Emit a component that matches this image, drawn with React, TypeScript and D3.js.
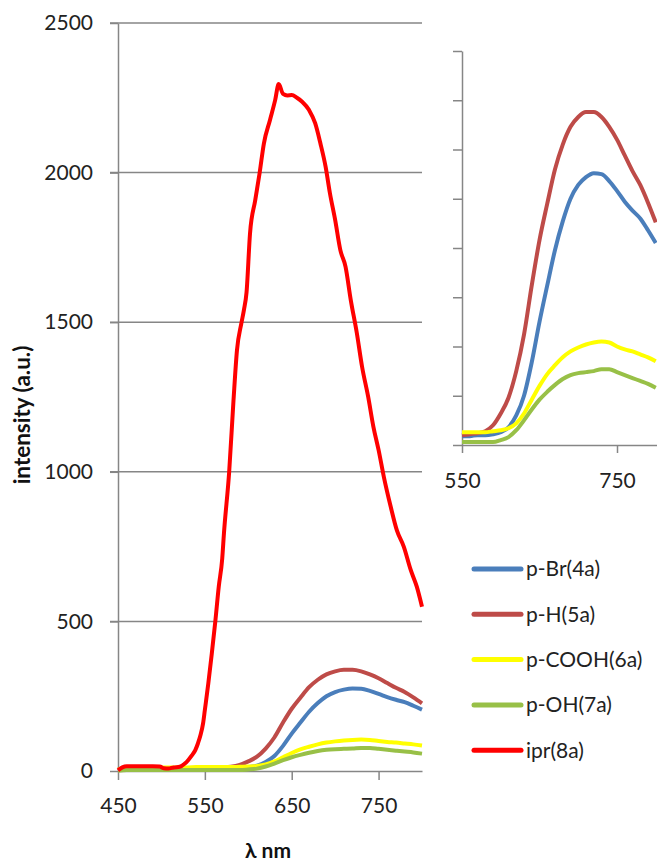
import React, { useEffect, useRef } from 'react';
import * as d3 from 'd3';

// wavelength grid (nm) for the four weak emitters
const wavelengths = [450, 460, 470, 480, 490, 500, 510, 520, 530, 540, 550, 560, 570, 580, 590, 600, 610, 620, 630, 640, 650, 660, 670, 680, 690, 700, 710, 720, 730, 740, 750, 760, 770, 780, 790, 800];

const pBr = [5, 7, 7, 7, 7, 7, 7, 7, 8, 8, 9, 9, 10, 10, 11, 13, 18, 30, 50, 84, 125, 162, 198, 227, 250, 264, 272, 276, 275, 268, 258, 247, 238, 230, 218, 205];
const pH = [6, 9, 9, 9, 9, 9, 9, 9, 10, 10, 10, 11, 12, 14, 20, 32, 48, 75, 112, 162, 208, 245, 280, 305, 323, 333, 338, 338, 333, 323, 310, 294, 278, 264, 246, 226];
const pCOOH = [5, 10, 12, 12, 12, 12, 12, 12, 12, 13, 13, 13, 13, 13, 14, 15, 17, 22, 32, 46, 60, 72, 81, 89, 95, 99, 102, 104, 105, 104, 100, 97, 95, 92, 89, 85];
const pOH = [1, 3, 3, 3, 3, 3, 3, 3, 3, 3, 3, 3, 3, 3, 3, 5, 8, 15, 25, 36, 46, 54, 61, 67, 71, 73, 74, 75, 77, 77, 74, 71, 68, 65, 62, 58];

// the strong emitter was sampled on its own grid
const iprWavelengths = [450, 455, 460, 470, 480, 490, 498, 503, 508, 514, 521, 527, 531, 535, 539, 542, 545, 548, 550, 554, 558, 562, 566, 570, 572, 578, 583, 587, 592, 595, 598, 602, 608, 613, 618, 625, 631, 635, 640, 645, 650, 656, 662, 670, 677, 683, 689, 694, 700, 706, 712, 718, 725, 731, 738, 744, 750, 756, 764, 771, 779, 787, 794, 800];
const ipr = [2, 12, 16, 16, 16, 16, 15, 9, 8, 12, 14, 25, 37, 52, 70, 92, 120, 160, 204, 293, 393, 499, 616, 710, 795, 1000, 1240, 1407, 1496, 1541, 1600, 1797, 1908, 1998, 2098, 2176, 2243, 2296, 2263, 2258, 2259, 2250, 2237, 2209, 2165, 2098, 2020, 1931, 1842, 1741, 1685, 1574, 1463, 1351, 1251, 1151, 1073, 984, 883, 805, 750, 672, 616, 549];

const seriesNames = ['p-Br(4a)', 'p-H(5a)', 'p-COOH(6a)', 'p-OH(7a)', 'ipr(8a)'];
const seriesColors = ['#4A7EBB', '#BE4B48', '#FFFF00', '#98C047', '#FF0000'];

const mainXTicks = [450, 550, 650, 750];
const mainYTicks = [0, 500, 1000, 1500, 2000, 2500];
const insetXTicks = [550, 750];
const insetYTicks = [0, 50, 100, 150, 200, 250, 300, 350, 400];

const FONT = 'Lato, "Open Sans", sans-serif';
const AXIS = '#868686';

const App = () => {
  const svgRef = useRef(null);

  useEffect(() => {
    const svg = d3.select(svgRef.current);
    svg.selectAll('*').remove();

    const small = [pBr, pH, pCOOH, pOH].map((vals, i) => ({
      name: seriesNames[i],
      color: seriesColors[i],
      points: wavelengths.map((w, j) => [w, vals[j]]),
    }));
    const strong = {
      name: seriesNames[4],
      color: seriesColors[4],
      points: iprWavelengths.map((w, j) => [w, ipr[j]]),
    };

    // main chart
    const x = d3.scaleLinear().domain([450, 800]).range([118, 422]);
    const y = d3.scaleLinear().domain([0, 2500]).range([771, 23]);

    const grid = svg.append('g');
    grid.selectAll('line')
      .data(mainYTicks.filter(t => t > 0))
      .enter()
      .append('line')
      .attr('x1', x(450) - 8)
      .attr('x2', x(800))
      .attr('y1', d => y(d))
      .attr('y2', d => y(d))
      .attr('stroke', AXIS)
      .attr('stroke-width', 1.5);

    const yAxis = svg.append('g')
      .attr('transform', `translate(${x(450)},0)`)
      .call(d3.axisLeft(y).tickValues(mainYTicks).tickFormat(d3.format('d')).tickSizeInner(8).tickSizeOuter(0).tickPadding(17));

    const xAxis = svg.append('g')
      .attr('transform', `translate(0,${y(0)})`)
      .call(d3.axisBottom(x).tickValues(mainXTicks).tickFormat(d3.format('d')).tickSizeInner(9).tickSizeOuter(0).tickPadding(18));

    const line = d3.line().x(d => x(d[0])).y(d => y(d[1])).curve(d3.curveMonotoneX);
    svg.append('g')
      .selectAll('path')
      .data([...small, strong])
      .enter()
      .append('path')
      .attr('d', d => line(d.points))
      .attr('fill', 'none')
      .attr('stroke', d => d.color)
      .attr('stroke-width', 4)
      .attr('stroke-linejoin', 'round');

    // inset: zoom on the four weak emitters
    const xi = d3.scaleLinear().domain([550, 850]).range([462, 694.5]);
    const yi = d3.scaleLinear().domain([0, 400]).range([445, 51]);

    const yAxisIn = svg.append('g')
      .attr('transform', `translate(${xi(550)},0)`)
      .call(d3.axisLeft(yi).tickValues(insetYTicks).tickFormat(() => '').tickSizeInner(9).tickSizeOuter(0));

    const xAxisIn = svg.append('g')
      .attr('transform', `translate(0,${yi(0)})`)
      .call(d3.axisBottom(xi).tickValues(insetXTicks).tickFormat(d3.format('d')).tickSizeInner(8).tickSizeOuter(0).tickPadding(20));

    const lineIn = d3.line().x(d => xi(d[0])).y(d => yi(d[1])).curve(d3.curveMonotoneX);
    svg.append('g')
      .selectAll('path')
      .data(small)
      .enter()
      .append('path')
      .attr('d', d => lineIn(d.points.filter(p => p[0] >= 550)))
      .attr('fill', 'none')
      .attr('stroke', d => d.color)
      .attr('stroke-width', 4)
      .attr('stroke-linejoin', 'round');

    [yAxis, xAxis, yAxisIn, xAxisIn].forEach(g => {
      g.selectAll('path, line').attr('stroke', AXIS).attr('stroke-width', 1.5);
      g.selectAll('text').attr('font-family', FONT).attr('font-size', 21).attr('fill', '#222');
    });

    // axis titles
    svg.append('text')
      .attr('transform', 'translate(22,415) rotate(-90)')
      .attr('dy', '0.35em')
      .attr('text-anchor', 'middle')
      .attr('font-family', FONT)
      .attr('font-weight', 'bold')
      .attr('font-size', 22.5)
      .attr('fill', '#111')
      .text('intensity (a.u.)');

    svg.append('text')
      .attr('x', 268)
      .attr('y', 858)
      .attr('text-anchor', 'middle')
      .attr('font-family', FONT)
      .attr('font-weight', 'bold')
      .attr('font-size', 21)
      .attr('fill', '#111')
      .text('λ nm');

    // legend
    const legend = svg.append('g')
      .selectAll('g')
      .data([...small, strong])
      .enter()
      .append('g')
      .attr('transform', (d, i) => `translate(0,${569 + i * 45.3})`);
    legend.append('line')
      .attr('x1', 474)
      .attr('x2', 521)
      .attr('stroke', d => d.color)
      .attr('stroke-width', 5)
      .attr('stroke-linecap', 'round');
    legend.append('text')
      .attr('x', 526)
      .attr('dy', '0.35em')
      .attr('font-family', FONT)
      .attr('font-size', 21)
      .attr('fill', '#222')
      .text(d => d.name);
  }, []);

  return (
    <svg
      ref={svgRef}
      width={657}
      height={861}
      style={{ position: 'absolute', left: 0, top: 0, background: '#fff' }}
    />
  );
};

export default App;
